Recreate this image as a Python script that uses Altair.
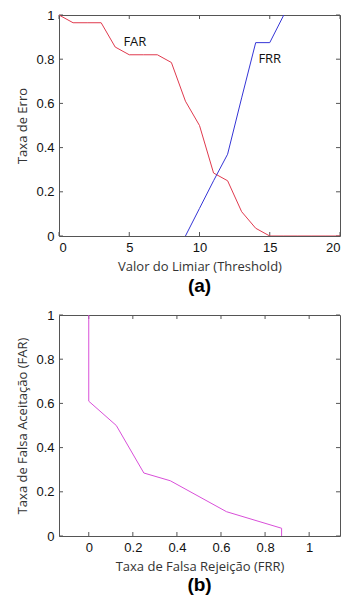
import altair as alt
import pandas as pd

# ---- data ----
threshold = list(range(0, 21))
far = [1.0, 0.965, 0.965, 0.965, 0.855, 0.82, 0.82, 0.82, 0.785, 0.61, 0.5,
       0.285, 0.25, 0.11, 0.035, 0.0, 0.0, 0.0, 0.0, 0.0, 0.0]
frr_threshold = [9, 10, 11, 12, 13, 14, 15, 16]
frr = [0.0, 0.125, 0.25, 0.37, 0.625, 0.875, 0.875, 1.0]

roc_frr = [0.0, 0.0, 0.125, 0.25, 0.37, 0.625, 0.875, 0.875]
roc_far = [1.0, 0.61, 0.5, 0.285, 0.25, 0.11, 0.035, 0.0]

labels_text = ["FAR", "FRR"]
labels_x = [5.4, 15.0]
labels_y = [0.88, 0.80]

xticks_a = [0, 5, 10, 15, 20]
yticks = [0, 0.2, 0.4, 0.6, 0.8, 1]
xticks_b = [0, 0.2, 0.4, 0.6, 0.8, 1]

W, H = 281, 221
TICK = 4
FRAME = "#555555"
LABEL_FONT = "Liberation Sans"
TITLE_FONT = "Open Sans"

df_far = pd.DataFrame({"t": threshold, "v": far})
df_frr = pd.DataFrame({"t": frr_threshold, "v": frr})
df_lab = pd.DataFrame({"t": labels_x, "v": labels_y, "s": labels_text})
df_roc = pd.DataFrame({"x": roc_frr, "y": roc_far, "o": list(range(len(roc_frr)))})


def axis(title, values):
    return alt.Axis(title=title, values=values, format="~g", grid=False, domain=False,
                    ticks=False, labelFont=LABEL_FONT, labelFontSize=13, labelColor="#111",
                    labelPadding=5, titleFont=TITLE_FONT, titleFontSize=13,
                    titleFontWeight="normal", titleColor="#333", titlePadding=6)


def tick_layers(xvals, yvals, xscale, yscale, xaxis, yaxis):
    dx = pd.DataFrame({"p": xvals})
    dy = pd.DataFrame({"p": yvals})
    base_x = alt.Chart(dx).mark_rule(color=FRAME, strokeWidth=1)
    base_y = alt.Chart(dy).mark_rule(color=FRAME, strokeWidth=1)
    xenc = alt.X("p:Q", scale=xscale, axis=xaxis)
    yenc = alt.Y("p:Q", scale=yscale, axis=yaxis)
    return [
        base_x.encode(x=xenc, y=alt.value(H), y2=alt.value(H - TICK)),
        base_x.encode(x=xenc, y=alt.value(0), y2=alt.value(TICK)),
        base_y.encode(y=yenc, x=alt.value(0), x2=alt.value(TICK)),
        base_y.encode(y=yenc, x=alt.value(W), x2=alt.value(W - TICK)),
    ]


# ---- panel (a) ----
xs_a = alt.Scale(domain=[0, 20], nice=False, zero=False)
ys = alt.Scale(domain=[0, 1], nice=False)
ax_a = axis("Valor do Limiar (Threshold)", xticks_a)
ay_a = axis("Taxa de Erro", yticks)

far_line = alt.Chart(df_far).mark_line(color="#e03a4e", strokeWidth=1, clip=True).encode(
    x=alt.X("t:Q", scale=xs_a, axis=ax_a),
    y=alt.Y("v:Q", scale=ys, axis=ay_a),
)
frr_line = alt.Chart(df_frr).mark_line(color="#3535d6", strokeWidth=1, clip=True).encode(
    x=alt.X("t:Q", scale=xs_a, axis=ax_a), y=alt.Y("v:Q", scale=ys, axis=ay_a)
)
txt = alt.Chart(df_lab).mark_text(font=TITLE_FONT, fontSize=13, color="#111").encode(
    x=alt.X("t:Q", scale=xs_a, axis=ax_a), y=alt.Y("v:Q", scale=ys, axis=ay_a), text="s:N"
)
panel_a = alt.layer(
    *tick_layers(xticks_a, yticks, xs_a, ys, ax_a, ay_a), far_line, frr_line, txt
).properties(
    width=W, height=H,
    title=alt.TitleParams("(a)", orient="bottom", font=LABEL_FONT, fontSize=19,
                          fontWeight="bold", color="#000", offset=4),
)

# ---- panel (b) ----
xs_b = alt.Scale(domain=[-0.135, 1.14], nice=False, zero=False)
ax_b = axis("Taxa de Falsa Rejeição (FRR)", xticks_b)
ay_b = axis("Taxa de Falsa Aceitação (FAR)", yticks)
roc_line = alt.Chart(df_roc).mark_line(color="#d94fd9", strokeWidth=1).encode(
    x=alt.X("x:Q", scale=xs_b, axis=ax_b),
    y=alt.Y("y:Q", scale=ys, axis=ay_b),
    order="o:Q",
)
panel_b = alt.layer(
    *tick_layers(xticks_b, yticks, xs_b, ys, ax_b, ay_b), roc_line
).properties(
    width=W, height=H,
    title=alt.TitleParams("(b)", orient="bottom", font=LABEL_FONT, fontSize=19,
                          fontWeight="bold", color="#000", offset=3),
)

chart = alt.vconcat(panel_a, panel_b, spacing=11).configure_view(
    stroke=FRAME, strokeWidth=1
).properties(
    padding={"left": 8, "top": 0, "right": 0, "bottom": 0}
)

chart.save("out.html", embed_options={"renderer": "svg", "actions": False})
